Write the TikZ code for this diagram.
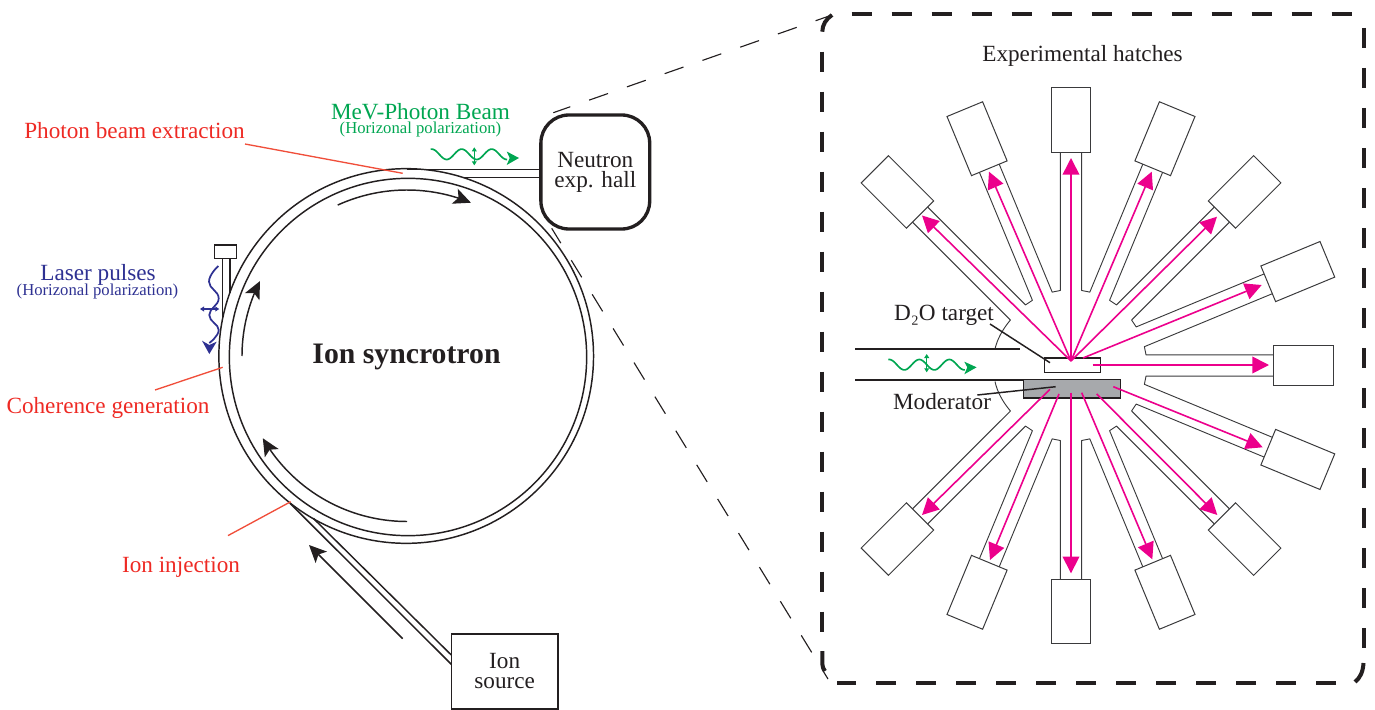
\documentclass[tikz,border=0pt]{standalone}
\usepackage{fontspec}
\setmainfont{Liberation Serif}
\usetikzlibrary{arrows.meta}
\definecolor{ink}{HTML}{231F20}
\definecolor{wall}{HTML}{3A3A3C}
\definecolor{redtxt}{HTML}{EE2A24}
\definecolor{redln}{HTML}{F04E3A}
\definecolor{greenb}{HTML}{00A651}
\definecolor{blueb}{HTML}{2E3192}
\definecolor{magb}{HTML}{EC008C}
\definecolor{modfill}{HTML}{A7A9AC}
\newcommand{\mainsize}{\fontsize{17.4}{15}\selectfont}
\newcommand{\smallsize}{\fontsize{12.5}{14}\selectfont}
\tikzset{
  ln/.style={draw=ink,line width=1.1pt},
  red leader/.style={draw=redln,line width=1pt},
  lbl/.style={font=\mainsize,text=ink,inner sep=0pt,align=center},
  redlbl/.style={font=\mainsize,text=redtxt,inner sep=0pt},
  hatch/.style={draw=wall,line width=.75pt,minimum width=28.9pt,minimum height=48pt,inner sep=0pt},
  tube/.style={draw=wall,line width=.7pt,line join=round},
  beam/.style={draw=magb,line width=1.2pt,-{Triangle[length=12.5pt,width=12.5pt]}},
  bigdash/.style={draw=ink,line width=3pt},
  thindash/.style={draw=ink,line width=.85pt},
  ionarrow/.style={draw=ink,line width=1.1pt,-{Stealth[length=13pt,width=12pt,inset=3pt]}},
  tiny/.style={line width=.85pt,{Triangle[length=3pt,width=3.6pt]}-{Triangle[length=3pt,width=3.6pt]}},
}
\begin{document}
\begin{tikzpicture}[x=.75pt,y=-.75pt]
\useasboundingbox (0,0) rectangle (1375,710);
% ---- hall, source
\node[draw=ink,line width=2.5pt,rounded corners=21pt,minimum width=81.6pt,minimum height=85.5pt,inner sep=0pt,lbl] (hall) at (595.3,172) {Neutron\\exp. hall};
\node[draw=ink,line width=1.2pt,minimum width=80pt,minimum height=56.2pt,inner sep=0pt,lbl] (source) at (504.7,671.5) {Ion\\source};
% ---- ring
\coordinate (ringc) at (406.2,356);
\coordinate (ringi) at (408,357);
\draw[ln] (ringc) circle[radius=140.5pt];
\draw[ln] (ringi) circle[radius=134pt];
% ---- photon beamline
\coordinate (ph1) at (406.5,169.3);
\coordinate (ph2) at (463,177.3);
\draw[ln] (ph1) -- (ph1 -| hall.west);
\draw[ln] (ph2) -- (ph2 -| hall.west);
% ---- injection line
\coordinate (inj1) at (290,503.3);
\coordinate (inj2) at (313.3,518.3);
\coordinate (src1) at (451.3,664.3);
\coordinate (src2) at (451.3,655);
\draw[ln] (inj1) -- (src1);
\draw[ln] (inj2) -- (src2);
% ---- laser
\node[draw=ink,line width=1.1pt,minimum width=16.2pt,minimum height=10pt,inner sep=0pt] (laser) at (225.5,251.6) {};
\coordinate (las1) at (222.3,319);
\coordinate (las2) at (230,292.5);
\draw[ln] (las1) -- (las1 |- laser.south);
\draw[ln] (las2) -- (las2 |- laser.south);
% ---- ion direction arrows
\draw[ionarrow] plot[domain=114.5:67.5,samples=40] ({407+167*cos(\x)},{357-167*sin(\x)});
\draw[ionarrow] plot[domain=180:153,samples=30] ({407+165*cos(\x)},{356-165*sin(\x)});
\draw[ionarrow] plot[domain=270:210,samples=40] ({407+166.5*cos(\x)},{355-166.5*sin(\x)});
\coordinate (arrA) at (402.7,638.7);
\coordinate (arrB) at (309,545);
\draw[ionarrow] (arrA) -- (arrB);
% ---- green photon symbol top
\begin{scope}[shift={(430.7,154.3)}]
\draw[greenb,line width=1.25pt] plot[domain=0:76.5,samples=70] ({\x},{-5.2*cos(12*(\x-1))});
\fill[greenb] (76,-2.8) -- (88.3,3.7) -- (76,10.7) -- (79,3.7) -- cycle;
\end{scope}
\draw[greenb,tiny] (474.3,147.3) -- (474.3,165.3);
% ---- blue laser symbol
\draw[blueb,line width=1.3pt] plot[smooth,tension=.8] coordinates {(218.3,266) (209,281.7) (218.7,298.3) (209.3,315) (218.7,330) (209.3,343)};
\fill[blueb] (202,340.7) -- (209.3,354) -- (216.7,341.7) -- (209.3,345) -- cycle;
\draw[blueb,tiny] (200,309) -- (219.3,309);
% ---- labels left
\node[redlbl] (lphoton) at (134.5,131) {Photon beam extraction};
\node[redlbl] (lcoh) at (108,408) {Coherence generation};
\node[redlbl] (linj) at (181,567) {Ion injection};
\node[font=\mainsize,text=greenb,inner sep=0pt] (lmev) at (420.5,112) {MeV-Photon Beam};
\node[font=\smallsize,text=greenb,inner sep=0pt] (lmevp) at (420.5,129) {(Horizonal polarization)};
\node[font=\mainsize,text=blueb,inner sep=0pt] (llas) at (98,274.5) {Laser pulses};
\node[font=\smallsize,text=blueb,inner sep=0pt] (llasp) at (97.5,291) {(Horizonal polarization)};
\node[font=\fontsize{22.3}{26}\selectfont\bfseries,text=ink,inner sep=0pt,anchor=base] (lring) at (406.5,363.3) {Ion syncrotron};
\coordinate (r1a) at (245,144); \coordinate (r1b) at (402.7,173.3);
\coordinate (r2a) at (155,390); \coordinate (r2b) at (222.7,367.3);
\coordinate (r3a) at (228,535.6); \coordinate (r3b) at (290.7,501.7);
\draw[red leader] (r1a) -- (r1b);
\draw[red leader] (r2a) -- (r2b);
\draw[red leader] (r3a) -- (r3b);
% ---- dashed zoom lines
\coordinate (dzA) at (553.3,112.7); \coordinate (dzB) at (832,15);
\coordinate (dzC) at (551.7,228.3); \coordinate (dzD) at (828,679);
\draw[thindash,dash pattern=on 15pt off 15pt,dash phase=1.5pt] (dzA) -- (dzB);
\draw[thindash,dash pattern=on 15pt off 15pt,dash phase=1.9pt] (dzC) -- (dzD);
% ---- big dashed box
\coordinate (bTL) at (851.7,13.7); \coordinate (bTR) at (1351.7,13.7);
\coordinate (bRT) at (1363.5,28); \coordinate (bRB) at (1363.5,648);
\coordinate (bBR) at (1336,683.3); \coordinate (bBL) at (837.3,683.3);
\coordinate (bLB) at (822.3,651); \coordinate (bLT) at (822.3,51.7);
\draw[bigdash,dash pattern=on 15pt off 15pt] (bTL) -- (bTR);
\draw[bigdash,dash pattern=on 15pt off 15pt] (bRT) -- (bRB);
\draw[bigdash,dash pattern=on 15pt off 15pt] (bBR) -- (bBL);
\draw[bigdash,dash pattern=on 15pt off 15pt] (bLT) -- (bLB);
\draw[bigdash] (822.3,31.7) .. controls (822.3,25) and (826,19) .. (832,15);
\draw[bigdash] (bLB) -- (822.3,664) .. controls (822.3,667) and (823.5,669) .. (825,671);
\draw[bigdash] (1363.5,663) .. controls (1363,672) and (1360,678) .. (1355,682);
\node[lbl] (lhatch) at (1082.5,56) {Experimental hatches};
% ---- hatch tubes
\def\cx{1071}\def\cy{365.5}\def\tw{10.7}\def\tr{75}
\foreach \a/\b/\ra/\rb in {315/337.5/213.5/213.5,337.5/360/213.5/213.5,0/22.5/213.5/213.5,22.5/45/213.5/213.5,45/67.5/213.5/213.5,67.5/90/213.5/202,90/112.5/202/213.5,112.5/135/213.5/213.5,135/157.5/213.5/213.5,157.5/180/213.5/213.5,180/202.5/213.5/213.5,202.5/225/213.5/213.5}{
  \draw[tube]
    ({\cx+\ra*sin(\a)+\tw*cos(\a)},{\cy-\ra*cos(\a)+\tw*sin(\a)}) --
    ({\cx+\tr*sin(\a)+\tw*cos(\a)},{\cy-\tr*cos(\a)+\tw*sin(\a)}) --
    ({\cx+\tr*sin(\b)-\tw*cos(\b)},{\cy-\tr*cos(\b)-\tw*sin(\b)}) --
    ({\cx+\rb*sin(\b)-\tw*cos(\b)},{\cy-\rb*cos(\b)-\tw*sin(\b)});
}
% outer walls toward the beam entry
\draw[tube] ({\cx+213.5*sin(315)-\tw*cos(315)},{\cy-213.5*cos(315)-\tw*sin(315)}) -- (1010.4,320) .. controls (1002,330) and (997,340) .. (995,349);
\draw[tube] ({\cx+213.5*sin(225)+\tw*cos(225)},{\cy-213.5*cos(225)+\tw*sin(225)}) -- (1010.4,411) .. controls (1002,401) and (997,391) .. (995,381.5);
% ---- hatches
\foreach \a in {315,337.5,0,22.5,45,67.5,112.5,135,157.5,180,202.5,225}{
  \node[hatch,rotate=-\a] (h\a) at ({\cx+245.5*sin(\a)},{\cy-245.5*cos(\a)}) {};
}
\node[hatch,minimum width=45pt,minimum height=30pt] (h90) at (1303,365) {};
% ---- beam entry
\coordinate (bmA) at (855,349); \coordinate (bmAe) at (1020,349);
\coordinate (bmB) at (855,380);
\node[draw=ink,line width=1.1pt,fill=modfill,minimum width=72.8pt,minimum height=14pt,inner sep=0pt] (moder) at (1071.8,388.6) {};
\node[draw=ink,line width=1.1pt,fill=white,minimum width=42pt,minimum height=10.7pt,inner sep=0pt] (target) at (1072.7,365.2) {};
\draw[ink,line width=.8pt] (bmA) -- (bmAe);
\draw[ink,line width=.8pt] (bmB) -- (bmB -| moder.west);
% ---- green photon symbol in hatch
\begin{scope}[shift={(888.3,364.7)}]
\draw[greenb,line width=1.25pt] plot[domain=0:76.5,samples=70] ({\x},{-5.2*cos(12*(\x-1))});
\fill[greenb] (76,-3) -- (88.3,2.6) -- (76,9.6) -- (79,2.6) -- cycle;
\end{scope}
\draw[greenb,tiny] (926.7,354) -- (926.7,372.3);
% ---- magenta beams
\coordinate (tg) at (1071,361);
\foreach \tx/\ty in {922/215.5,989/171.7,1071/158,1151.7/171.7,1217/216.7}{
  \draw[beam] (tg) -- (\tx,\ty);
}
\draw[beam] (1083,358) -- (1261.7,285);
\draw[beam] (1092.7,365) -- (1269,365);
\draw[beam] (1113.3,386.7) -- (1262.7,447.3);
\draw[beam] (1096.7,394) -- (1217.3,515);
\draw[beam] (1081.7,392.7) -- (1152.3,559.3);
\draw[beam] (1071,392.7) -- (1071,573.3);
\draw[beam] (1059,394) -- (990,560);
\draw[beam] (1050,389.3) -- (922,515);
% ---- labels and leaders
\coordinate (t1) at (990,324); \coordinate (t2) at (1050,362.7);
\coordinate (m1) at (977.3,395); \coordinate (m2) at (1055.7,386.7);
\draw[ln] (t1) -- (t2);
\draw[ln] (m1) -- (m2);
\node[lbl,anchor=base] (ld) at (944,320) {D₂O target};
\node[lbl,anchor=base] (lm) at (942,409.3) {Moderator};
\end{tikzpicture}
\end{document}
